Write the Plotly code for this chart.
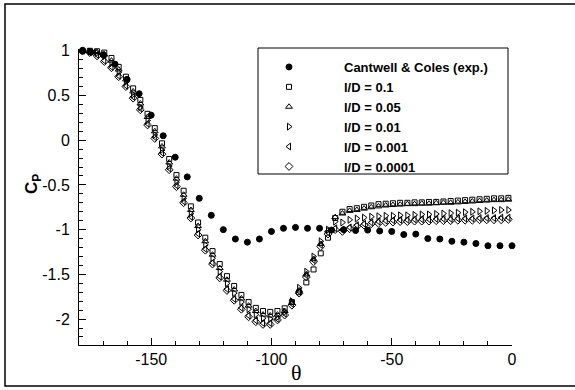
import plotly.graph_objects as go

# Experimental data (Cantwell & Coles)
exp_theta = [-178.5, -175, -170, -165, -160, -155, -150, -145, -140, -135, -130, -125,
             -120, -115, -110, -105, -100, -95, -90, -85, -80, -75, -70, -65, -60,
             -55, -50, -45, -40, -35, -30, -25, -20, -15, -10, -5, 0]
exp_cp = [1.0, 0.985, 0.955, 0.85, 0.68, 0.52, 0.28, 0.05, -0.19, -0.41, -0.65, -0.84,
          -1.0, -1.105, -1.14, -1.105, -1.02, -0.985, -0.975, -0.985, -0.985, -1.005,
          -1.0, -1.01, -1.005, -1.015, -1.02, -1.055, -1.05, -1.10, -1.105, -1.13,
          -1.14, -1.155, -1.18, -1.18, -1.18]

# Simulation angles
sim_theta = [-178.5, -175.5, -172.5, -169.5, -166.5, -163.5, -160.5, -157.5, -154.5, -151.5,
             -148.5, -145.5, -142.5, -139.5, -136.5, -133.5, -130.5, -127.5, -124.5, -121.5,
             -118.5, -115.5, -112.5, -109.5, -106.5, -103.5, -100.5, -97.5, -94.5, -91.5,
             -88.5, -85.5, -82.5, -79.5, -76.5, -73.5, -70.5, -67.5, -64.5, -61.5,
             -58.5, -55.5, -52.5, -49.5, -46.5, -43.5, -40.5, -37.5, -34.5, -31.5,
             -28.5, -25.5, -22.5, -19.5, -16.5, -13.5, -10.5, -7.5, -4.5, -1.5]

cp_ld_01 = [1.0, 1.0, 0.995, 0.98, 0.92, 0.82, 0.71, 0.58, 0.45, 0.295,
            0.135, -0.035, -0.21, -0.39, -0.565, -0.74, -0.92, -1.09, -1.24, -1.385,
            -1.52, -1.63, -1.73, -1.81, -1.875, -1.91, -1.92, -1.91, -1.88, -1.81,
            -1.70, -1.59, -1.445, -1.265, -1.09, -0.87, -0.80, -0.77, -0.76, -0.745,
            -0.73, -0.715, -0.71, -0.705, -0.70, -0.70, -0.695, -0.695, -0.69, -0.69,
            -0.685, -0.68, -0.675, -0.67, -0.665, -0.66, -0.655, -0.65, -0.65, -0.645]

cp_ld_005 = [1.0, 0.995, 0.985, 0.96, 0.89, 0.79, 0.68, 0.545, 0.41, 0.26,
             0.10, -0.07, -0.25, -0.43, -0.61, -0.78, -0.96, -1.13, -1.28, -1.43,
             -1.56, -1.67, -1.77, -1.85, -1.91, -1.95, -1.96, -1.95, -1.91, -1.82,
             -1.68, -1.50, -1.33, -1.16, -1.01, -0.86, -0.82, -0.79, -0.78, -0.765,
             -0.75, -0.74, -0.73, -0.725, -0.72, -0.715, -0.715, -0.71, -0.71, -0.705,
             -0.70, -0.70, -0.695, -0.69, -0.685, -0.68, -0.675, -0.67, -0.67, -0.665]

cp_ld_001 = [1.0, 0.99, 0.975, 0.94, 0.86, 0.76, 0.65, 0.51, 0.37, 0.22,
             0.06, -0.11, -0.29, -0.47, -0.65, -0.82, -1.0, -1.17, -1.32, -1.47,
             -1.60, -1.71, -1.81, -1.89, -1.95, -1.99, -2.0, -1.98, -1.92, -1.80,
             -1.65, -1.47, -1.30, -1.13, -1.0, -0.91, -0.92, -0.89, -0.875, -0.865,
             -0.855, -0.85, -0.845, -0.845, -0.84, -0.84, -0.835, -0.83, -0.83, -0.825,
             -0.82, -0.815, -0.81, -0.805, -0.80, -0.795, -0.79, -0.785, -0.78, -0.78]

cp_ld_0001 = [1.0, 0.985, 0.955, 0.89, 0.82, 0.72, 0.61, 0.485, 0.355, 0.185,
              0.035, -0.14, -0.315, -0.505, -0.685, -0.855, -1.045, -1.215, -1.37, -1.525,
              -1.665, -1.775, -1.875, -1.96, -2.015, -2.045, -2.045, -2.0, -1.94, -1.83,
              -1.69, -1.51, -1.34, -1.17, -1.03, -0.985, -1.0, -0.975, -0.95, -0.935,
              -0.92, -0.91, -0.90, -0.895, -0.89, -0.89, -0.885, -0.885, -0.885, -0.88,
              -0.88, -0.88, -0.875, -0.875, -0.875, -0.87, -0.87, -0.87, -0.865, -0.865]

cp_ld_00001 = [1.0, 0.98, 0.944, 0.88, 0.81, 0.71, 0.60, 0.47, 0.34, 0.17,
               0.02, -0.155, -0.33, -0.52, -0.70, -0.87, -1.06, -1.23, -1.385, -1.54,
               -1.68, -1.79, -1.89, -1.975, -2.03, -2.06, -2.06, -2.01, -1.955, -1.845,
               -1.71, -1.53, -1.36, -1.19, -1.05, -1.0, -1.02, -0.99, -0.965, -0.95,
               -0.935, -0.93, -0.92, -0.915, -0.91, -0.91, -0.905, -0.905, -0.905, -0.90,
               -0.90, -0.90, -0.895, -0.895, -0.895, -0.89, -0.89, -0.89, -0.89, -0.885]

x_tickvals = [-150, -100, -50, 0]
x_ticktext = ["-150", "-100", "-50", "0"]
y_tickvals = [1, 0.5, 0, -0.5, -1, -1.5, -2]
y_ticktext = ["1", "0.5", "0", "-0.5", "-1", "-1.5", "-2"]

series = [
    ("Cantwell & Coles (exp.)", exp_theta, exp_cp, "circle", 6),
    ("l/D = 0.1", sim_theta, cp_ld_01, "square-open", 5),
    ("l/D = 0.05", sim_theta, cp_ld_005, "triangle-up-open", 6),
    ("l/D = 0.01", sim_theta, cp_ld_001, "triangle-right-open", 6),
    ("l/D = 0.001", sim_theta, cp_ld_0001, "triangle-left-open", 6),
    ("l/D = 0.0001", sim_theta, cp_ld_00001, "diamond-open", 6),
]

fig = go.Figure()
for name, xs, ys, sym, sz in series:
    fig.add_trace(go.Scatter(
        x=xs, y=ys, mode="markers", name=name, cliponaxis=False,
        marker=dict(symbol=sym, size=sz, color="black", line=dict(color="black", width=1)),
    ))

W, H = 575, 390
L, R, T, B = 79, 63, 49, 45
pw, ph = W - L - R, H - T - B

def px_x(p):
    return (p - L) / pw

def px_y(p):
    return (H - B - p) / ph

frame_path = "M {a},{t} L {b},{t} L {b},{bt} L {a},{bt}".format(
    a=px_x(620), b=px_x(5), t=px_y(4), bt=px_y(386))

fig.update_layout(
    width=W, height=H,
    margin=dict(l=L, r=R, t=T, b=B, pad=0),
    paper_bgcolor="white", plot_bgcolor="white",
    font=dict(family="Liberation Sans, Arial, sans-serif", color="black"),
    showlegend=True,
    legend=dict(
        x=px_x(234), xanchor="left", y=px_y(52), yanchor="top",
        bgcolor="rgba(0,0,0,0)", borderwidth=0,
        font=dict(family="Liberation Sans, Arial, sans-serif", size=13, color="black", weight="bold"),
        itemwidth=100,
    ),
    xaxis=dict(
        range=[-180, 0], showgrid=False, zeroline=False,
        showline=True, linecolor="black", linewidth=1,
        ticks="inside", ticklen=7, tickwidth=1, tickcolor="black",
        tickvals=x_tickvals, ticktext=x_ticktext,
        tickfont=dict(size=16),
        minor=dict(dtick=10, ticks="inside", ticklen=4, tickcolor="black", tickwidth=1),
    ),
    yaxis=dict(
        range=[-2.29, 1.02], showgrid=False, zeroline=False,
        showline=True, linecolor="black", linewidth=1,
        ticks="inside", ticklen=7, tickwidth=1, tickcolor="black",
        tickvals=y_tickvals, ticktext=y_ticktext,
        tickfont=dict(size=16),
        ticklabelstandoff=5,
        minor=dict(dtick=0.1, ticks="inside", ticklen=4, tickcolor="black", tickwidth=1),
    ),
    annotations=[
        dict(text="θ", xref="paper", yref="paper", x=px_x(296), y=px_y(372),
             xanchor="center", yanchor="middle", showarrow=False,
             font=dict(family="Liberation Serif, Times New Roman, serif", size=22, color="black")),
        dict(text="<b>C<sub>P</sub></b>", xref="paper", yref="paper", x=px_x(33), y=px_y(184),
             xanchor="center", yanchor="middle", showarrow=False, textangle=-90,
             font=dict(family="Liberation Sans, Arial, sans-serif", size=17, color="black")),
    ],
    shapes=[
        dict(type="path", xref="paper", yref="paper", path=frame_path,
             line=dict(color="black", width=1.5), fillcolor="rgba(0,0,0,0)", layer="below"),
        dict(type="rect", xref="paper", yref="paper",
             x0=px_x(258), x1=px_x(508), y0=px_y(174), y1=px_y(48),
             line=dict(color="black", width=1), fillcolor="white", layer="above"),
    ],
)

fig.write_html(
    "out.html",
    post_script="document.documentElement.style.overflow='hidden';"
                "document.body.style.overflow='hidden';document.body.style.margin='0';",
)
